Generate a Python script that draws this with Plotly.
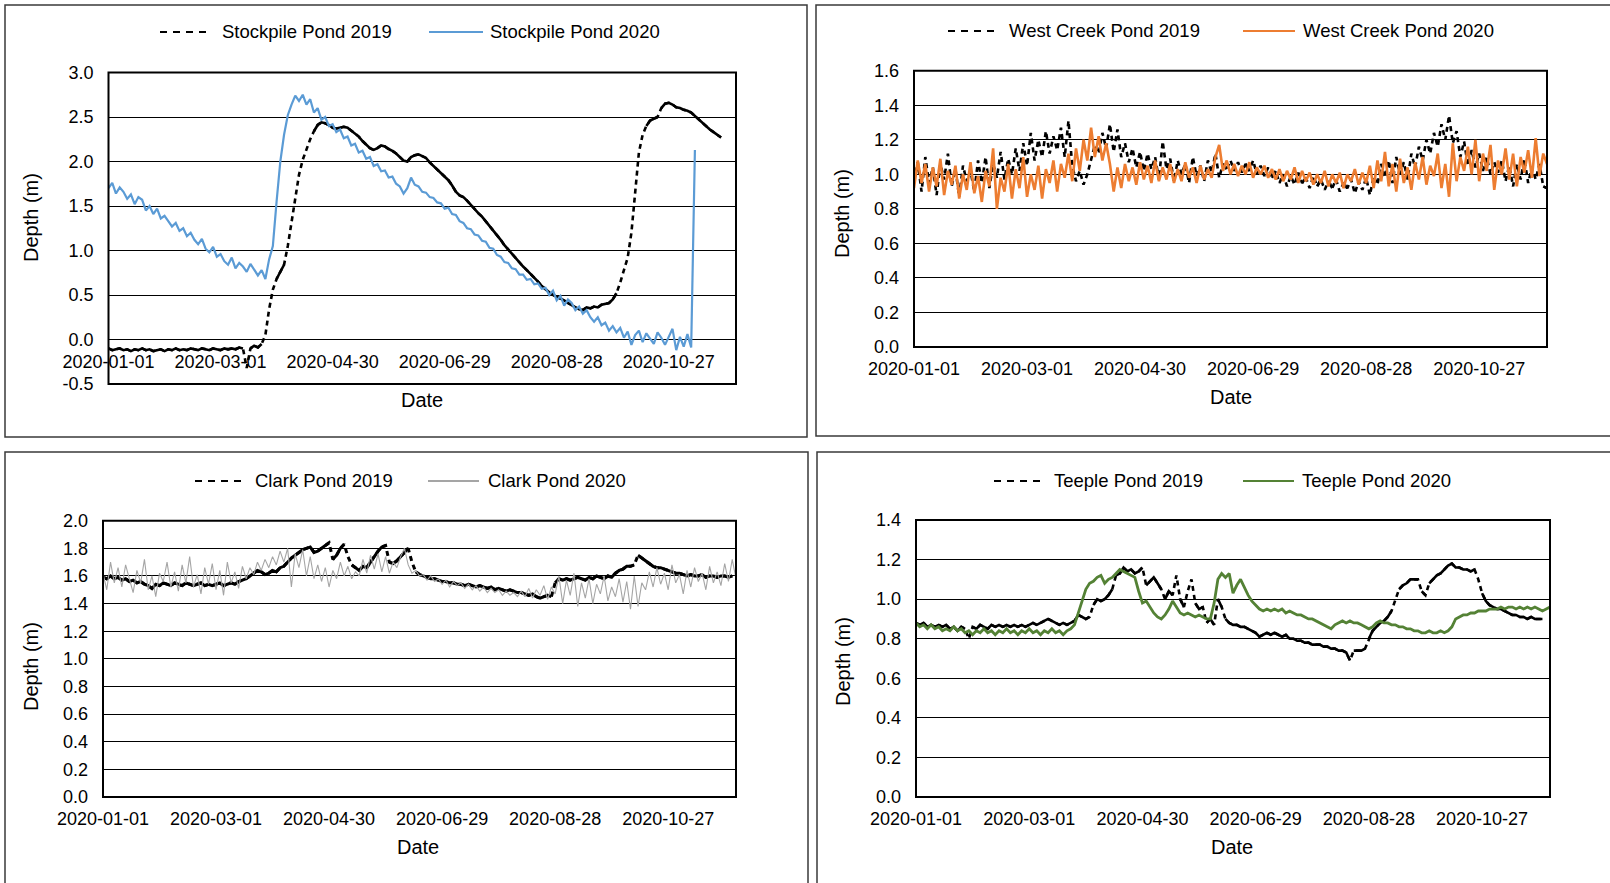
import pandas as pd
import plotly.graph_objects as go

# ---------------- data (depth in m, one value every 2 days from 2020-01-01) ----------------
START_DATE = "2020-01-01"
STEP_DAYS = 2
X_END = "2020-12-02"
TICK_DATES = ["2020-01-01", "2020-03-01", "2020-04-30", "2020-06-29", "2020-08-28", "2020-10-27"]

stockpile_2019 = [
    -0.10, -0.12, -0.11, -0.10, -0.12, -0.11, -0.13, -0.11, -0.12, -0.10,
    -0.12, -0.11, -0.13, -0.12, -0.11, -0.13, -0.11, -0.12, -0.10, -0.12,
    -0.11, -0.12, -0.10, -0.11, -0.12, -0.10, -0.11, -0.12, -0.10, -0.11,
    -0.12, -0.10, -0.11, -0.10, -0.11, -0.09, -0.10, -0.32, -0.10, -0.07,
    -0.09, -0.05, 0.05, 0.34, 0.56, 0.68, 0.76, 0.84, 1.05, 1.30,
    1.55, 1.85, 2.02, 2.14, 2.25, 2.34, 2.41, 2.44, 2.43, 2.41,
    2.38, 2.37, 2.38, 2.39, 2.38, 2.35, 2.32, 2.28, 2.23, 2.19,
    2.15, 2.13, 2.15, 2.18, 2.17, 2.14, 2.12, 2.09, 2.05, 2.01,
    2.00, 2.05, 2.07, 2.08, 2.06, 2.04, 1.99, 1.95, 1.91, 1.86,
    1.82, 1.79, 1.73, 1.66, 1.62, 1.60, 1.56, 1.51, 1.46, 1.42,
    1.38, 1.33, 1.27, 1.22, 1.17, 1.12, 1.06, 1.01, 0.96, 0.91,
    0.86, 0.82, 0.78, 0.74, 0.69, 0.65, 0.60, 0.56, 0.53, 0.50,
    0.48, 0.46, 0.44, 0.41, 0.38, 0.36, 0.34, 0.33, 0.36, 0.35,
    0.37, 0.36, 0.39, 0.40, 0.41, 0.45, 0.52, 0.64, 0.78, 0.92,
    1.20, 1.65, 2.10, 2.30, 2.40, 2.46, 2.48, 2.50, 2.60, 2.65,
    2.66, 2.64, 2.61, 2.60, 2.58, 2.57, 2.55, 2.51, 2.47, 2.43,
    2.40, 2.36, 2.33, 2.30, 2.27,
]
stockpile_2020 = [
    1.70, 1.76, 1.64, 1.71, 1.66, 1.58, 1.63, 1.52, 1.60, 1.57,
    1.45, 1.50, 1.41, 1.47, 1.36, 1.39, 1.33, 1.27, 1.31, 1.22,
    1.25, 1.16, 1.20, 1.12, 1.07, 1.13, 1.02, 0.98, 1.04, 0.93,
    0.96, 0.88, 0.84, 0.92, 0.80, 0.86, 0.82, 0.76, 0.85, 0.78,
    0.72, 0.78, 0.68, 0.90, 1.05, 1.55, 2.00, 2.30, 2.52, 2.64,
    2.74, 2.68, 2.75, 2.64, 2.70, 2.55, 2.60, 2.47, 2.50, 2.40,
    2.42, 2.33, 2.36, 2.26, 2.28, 2.18, 2.20, 2.10, 2.12, 2.03,
    2.05, 1.95, 1.97, 1.89, 1.90, 1.82, 1.83, 1.75, 1.72, 1.64,
    1.70, 1.82, 1.74, 1.72, 1.66, 1.65, 1.60, 1.59, 1.54, 1.53,
    1.47, 1.48, 1.41, 1.40, 1.33, 1.31, 1.25, 1.24, 1.18, 1.17,
    1.11, 1.10, 1.03, 1.02, 0.95, 0.93, 0.87, 0.86, 0.80, 0.79,
    0.73, 0.73, 0.67, 0.68, 0.62, 0.63, 0.57, 0.58, 0.50, 0.55,
    0.44, 0.49, 0.38, 0.45, 0.41, 0.33, 0.37, 0.29, 0.33, 0.25,
    0.20, 0.25, 0.16, 0.19, 0.10, 0.15, 0.08, 0.13, 0.02, 0.09,
    -0.06, 0.05, 0.10, -0.03, 0.07, 0.01, -0.05, 0.08, 0.02, -0.06,
    0.04, 0.12, -0.12, 0.03, -0.08, 0.06, -0.09, 2.13,
]
westcreek_2019 = [
    0.96, 1.07, 0.90, 1.10, 0.95, 1.04, 0.88, 1.06, 0.97, 1.12,
    0.93, 1.03, 0.87, 1.05, 0.96, 1.02, 0.90, 1.08, 0.95, 1.10,
    0.92, 1.06, 0.98, 1.13, 0.97, 1.09, 1.00, 1.15, 1.02, 1.18,
    1.05, 1.24, 1.08, 1.20, 1.10, 1.25, 1.12, 1.22, 1.14, 1.27,
    1.10, 1.31, 1.05, 0.96, 1.02, 0.94, 1.00, 1.08, 1.17, 1.12,
    1.24, 1.15, 1.29, 1.13, 1.26, 1.10, 1.18, 1.07, 1.15, 1.04,
    1.13, 1.02, 1.12, 1.03, 1.10, 0.97, 1.19, 1.03, 1.09, 0.96,
    1.08, 1.00, 1.06, 0.95, 1.10, 0.99, 1.05, 0.96, 1.08, 1.01,
    1.12, 0.98, 1.06, 1.03, 1.08, 1.02, 1.07, 1.01, 1.06, 1.02,
    1.08, 1.00, 1.05, 0.99, 1.04, 0.98, 1.02, 0.95, 1.00, 0.93,
    0.99, 0.94, 1.01, 0.95, 0.98, 0.92, 0.99, 0.93, 0.97, 0.91,
    0.96, 0.92, 0.97, 0.90, 0.95, 0.92, 0.97, 0.89, 0.96, 0.91,
    0.98, 0.88, 0.99, 0.94, 1.06, 0.98, 1.08, 0.95, 1.10, 1.00,
    1.07, 0.97, 1.12, 1.04, 1.16, 1.08, 1.20, 1.12, 1.24, 1.16,
    1.29, 1.20, 1.34, 1.18, 1.25, 1.10, 1.19, 1.05, 1.14, 1.04,
    1.12, 1.02, 1.10, 1.00, 1.07, 1.01, 1.08, 0.96, 1.05, 0.93,
    1.06, 0.97, 1.09, 0.95, 1.04, 0.97, 1.06, 0.93, 0.92,
]
westcreek_2020 = [
    0.92, 1.08, 0.95, 1.06, 0.90, 1.04, 0.93, 1.09, 0.88, 1.02,
    0.94, 1.05, 0.86, 1.00, 0.91, 1.07, 0.89, 0.99, 0.84, 1.02,
    0.93, 1.15, 0.80, 0.98, 0.90, 1.06, 0.86, 1.03, 0.92, 1.10,
    0.87, 1.00, 0.91, 1.05, 0.86, 1.03, 0.95, 1.08, 0.90, 1.06,
    0.98, 1.12, 0.96, 1.15, 1.02, 1.20, 1.08, 1.27, 1.10, 1.22,
    1.08, 1.18, 1.06, 0.90, 1.04, 0.92, 1.06, 0.96, 1.04, 0.94,
    1.07, 0.97, 1.05, 0.95, 1.08, 0.96, 1.04, 0.97, 1.06, 0.95,
    1.03, 0.96, 1.07, 0.98, 1.04, 0.95, 1.05, 0.97, 1.03, 0.98,
    1.10, 1.17, 1.02, 1.08, 1.00, 1.06, 0.99, 1.05, 1.00, 1.07,
    0.98, 1.04, 1.00, 1.05, 0.98, 1.03, 0.97, 1.03, 0.96, 1.02,
    0.97, 1.04, 0.95, 1.02, 0.96, 1.01, 0.94, 1.00, 0.95, 1.02,
    0.93, 1.00, 0.95, 1.01, 0.92, 1.00, 0.96, 1.03, 0.94, 1.01,
    0.95, 1.05, 0.92, 1.08, 0.96, 1.13, 0.93, 1.06, 0.90, 1.09,
    0.95, 1.04, 0.91, 1.07, 0.97, 1.10, 0.94, 1.05, 0.99, 1.12,
    0.92, 1.06, 0.87, 1.18, 0.96, 1.10, 1.02, 1.16, 1.00, 1.20,
    0.96, 1.12, 1.02, 1.17, 0.91, 1.08, 1.00, 1.15, 0.97, 1.12,
    0.93, 1.10, 1.01, 1.14, 0.98, 1.21, 0.99, 1.12, 1.06,
]
clark_2019 = [
    1.59, 1.58, 1.60, 1.58, 1.59, 1.57, 1.58, 1.56, 1.57, 1.55,
    1.56, 1.54, 1.53, 1.51, 1.54, 1.53, 1.55, 1.54, 1.53, 1.55,
    1.54, 1.53, 1.55, 1.54, 1.53, 1.54, 1.55, 1.53, 1.54, 1.53,
    1.54, 1.55, 1.53, 1.54, 1.55, 1.54, 1.56, 1.57, 1.58, 1.60,
    1.62, 1.64, 1.63, 1.61, 1.62, 1.64, 1.63, 1.66, 1.67, 1.70,
    1.73, 1.75, 1.77, 1.79, 1.80, 1.81, 1.77, 1.78, 1.80, 1.82,
    1.84, 1.72, 1.75, 1.80, 1.83, 1.74, 1.68, 1.66, 1.64, 1.67,
    1.66, 1.70, 1.74, 1.78, 1.81, 1.82, 1.70, 1.69, 1.71, 1.74,
    1.77, 1.80, 1.70, 1.63, 1.61, 1.60, 1.59, 1.58, 1.58, 1.57,
    1.56, 1.56, 1.55, 1.55, 1.54, 1.54, 1.53, 1.54, 1.53, 1.52,
    1.53, 1.52, 1.51, 1.52, 1.50, 1.51, 1.50, 1.49, 1.50, 1.49,
    1.48, 1.48, 1.47, 1.46, 1.47, 1.45, 1.44, 1.45, 1.46, 1.45,
    1.55, 1.58, 1.57, 1.58, 1.57, 1.58, 1.59, 1.58, 1.57, 1.59,
    1.58, 1.60, 1.59, 1.58, 1.60, 1.59, 1.62, 1.64, 1.65, 1.67,
    1.67, 1.68, 1.75, 1.73, 1.71, 1.69, 1.67, 1.66, 1.66, 1.65,
    1.64, 1.63, 1.62, 1.62, 1.61, 1.60, 1.61, 1.60, 1.60, 1.61,
    1.59, 1.60, 1.60, 1.59, 1.60, 1.60, 1.59, 1.60,
]
clark_2020 = [
    1.62, 1.50, 1.70, 1.55, 1.66, 1.52, 1.68, 1.57, 1.48, 1.64,
    1.55, 1.72, 1.50, 1.60, 1.45, 1.62, 1.56, 1.70, 1.52, 1.63,
    1.49, 1.68, 1.55, 1.74, 1.52, 1.61, 1.47, 1.66, 1.54, 1.69,
    1.50, 1.64, 1.46, 1.70, 1.55, 1.63, 1.51, 1.67, 1.58, 1.66,
    1.61, 1.70, 1.64, 1.72, 1.66, 1.74, 1.68, 1.78, 1.70, 1.80,
    1.52, 1.76, 1.66, 1.79, 1.60, 1.74, 1.58, 1.68, 1.56, 1.66,
    1.52, 1.64, 1.58, 1.70, 1.60, 1.67, 1.58, 1.63, 1.60, 1.72,
    1.62, 1.75, 1.65, 1.76, 1.63, 1.74, 1.62, 1.70, 1.66, 1.74,
    1.80, 1.68, 1.62, 1.64, 1.60, 1.61, 1.57, 1.60, 1.56, 1.58,
    1.54, 1.57, 1.52, 1.56, 1.53, 1.55, 1.51, 1.54, 1.50, 1.53,
    1.49, 1.52, 1.48, 1.51, 1.48, 1.50, 1.46, 1.49, 1.46, 1.48,
    1.45, 1.49, 1.45, 1.51, 1.44, 1.50, 1.46, 1.53, 1.43, 1.52,
    1.47, 1.60, 1.40, 1.57, 1.46, 1.62, 1.38, 1.55, 1.44, 1.58,
    1.40, 1.54, 1.47, 1.60, 1.42, 1.52, 1.45, 1.58, 1.41, 1.56,
    1.36, 1.60, 1.38, 1.55, 1.50, 1.63, 1.52, 1.66, 1.54, 1.62,
    1.50, 1.68, 1.55, 1.61, 1.47, 1.64, 1.52, 1.66, 1.56, 1.62,
    1.50, 1.67, 1.55, 1.63, 1.53, 1.69, 1.56, 1.72, 1.58,
]
teeple_2019 = [
    0.88, 0.87, 0.88, 0.86, 0.87, 0.86, 0.87, 0.86, 0.87, 0.85,
    0.86, 0.84, 0.86, 0.85, 0.80, 0.86, 0.85, 0.87, 0.86, 0.85,
    0.87, 0.86, 0.87, 0.86, 0.87, 0.86, 0.87, 0.86, 0.87, 0.86,
    0.87, 0.88, 0.87, 0.88, 0.89, 0.90, 0.89, 0.88, 0.87, 0.88,
    0.87, 0.88, 0.89, 0.92, 0.91, 0.90, 0.91, 0.97, 1.00, 0.99,
    1.00, 1.02, 1.05, 1.12, 1.13, 1.16, 1.14, 1.15, 1.13, 1.14,
    1.16, 1.07, 1.09, 1.11, 1.08, 1.05, 1.00, 1.04, 1.02, 1.12,
    1.00, 0.96, 1.04, 1.10, 0.98, 0.95, 0.96, 0.88, 0.90, 0.87,
    1.00, 0.96, 0.90, 0.88, 0.87, 0.87, 0.86, 0.86, 0.85, 0.84,
    0.83, 0.81, 0.82, 0.83, 0.82, 0.83, 0.82, 0.81, 0.82, 0.80,
    0.80, 0.79, 0.79, 0.78, 0.78, 0.77, 0.77, 0.77, 0.76, 0.76,
    0.75, 0.75, 0.74, 0.74, 0.73, 0.69, 0.74, 0.74, 0.74, 0.75,
    0.80, 0.84, 0.86, 0.88, 0.89, 0.91, 0.94, 1.00, 1.05, 1.07,
    1.08, 1.10, 1.10, 1.10, 1.04, 1.02, 1.08, 1.10, 1.12, 1.13,
    1.15, 1.17, 1.18, 1.16, 1.16, 1.15, 1.15, 1.14, 1.15, 1.10,
    1.03, 0.99, 0.97, 0.96, 0.95, 0.95, 0.94, 0.93, 0.92, 0.92,
    0.91, 0.91, 0.90, 0.91, 0.90, 0.90, 0.90,
]
teeple_2020 = [
    0.88, 0.86, 0.87, 0.85, 0.87, 0.85, 0.86, 0.84, 0.85, 0.84,
    0.86, 0.84, 0.85, 0.83, 0.84, 0.82, 0.84, 0.83, 0.85, 0.83,
    0.84, 0.82, 0.84, 0.83, 0.85, 0.83, 0.84, 0.82, 0.84, 0.83,
    0.85, 0.83, 0.84, 0.82, 0.84, 0.83, 0.85, 0.83, 0.84, 0.82,
    0.84, 0.85, 0.87, 0.93, 0.99, 1.05, 1.08, 1.09, 1.11, 1.12,
    1.08, 1.10, 1.11, 1.13, 1.15, 1.14, 1.13, 1.12, 1.11, 1.04,
    0.98, 0.99, 0.96, 0.93, 0.91, 0.90, 0.92, 0.95, 0.99, 0.96,
    0.93, 0.92, 0.93, 0.92, 0.91, 0.92, 0.91, 0.90, 0.90, 0.98,
    1.10, 1.13, 1.11, 1.13, 1.03, 1.07, 1.10, 1.06, 1.02, 0.99,
    0.97, 0.95, 0.94, 0.95, 0.94, 0.95, 0.94, 0.95, 0.93, 0.94,
    0.93, 0.92, 0.92, 0.91, 0.90, 0.90, 0.89, 0.88, 0.87, 0.86,
    0.85, 0.87, 0.88, 0.89, 0.88, 0.89, 0.88, 0.88, 0.87, 0.86,
    0.85, 0.86, 0.88, 0.89, 0.88, 0.88, 0.87, 0.87, 0.86, 0.86,
    0.85, 0.85, 0.84, 0.84, 0.83, 0.83, 0.84, 0.83, 0.83, 0.84,
    0.83, 0.84, 0.86, 0.90, 0.91, 0.92, 0.92, 0.93, 0.93, 0.94,
    0.94, 0.94, 0.95, 0.95, 0.95, 0.96, 0.95, 0.96, 0.96, 0.95,
    0.96, 0.95, 0.96, 0.95, 0.96, 0.95, 0.94, 0.95, 0.96,
]

series_names = [
    ("Stockpile Pond 2019", "Stockpile Pond 2020"),
    ("West Creek Pond 2019", "West Creek Pond 2020"),
    ("Clark Pond 2019", "Clark Pond 2020"),
    ("Teeple Pond 2019", "Teeple Pond 2020"),
]
series_values = [
    (stockpile_2019, stockpile_2020),
    (westcreek_2019, westcreek_2020),
    (clark_2019, clark_2020),
    (teeple_2019, teeple_2020),
]

# ---------------- layout / style ----------------
W, H = 1610, 883
FONT = "Liberation Sans, Arial, sans-serif"
COL_2020 = ["#5B9BD5", "#ED7D31", "#A5A5A5", "#548235"]
W_2020 = [2.2, 2.6, 1.1, 2.8]
W_2019 = [2.6, 2.6, 3.0, 2.6]

panels = [
    dict(plot=(108.5, 72.5, 736, 384), yr=(-0.5, 3.0), dt=0.5, box=(5, 5, 807, 437),
         ytitle=(31, 217), xtitle=(422, 400), leg_y=32, leg=(160, 212, 220, 429, 483, 488)),
    dict(plot=(914, 70.7, 1547, 347), yr=(0.0, 1.6), dt=0.2, box=(816, 5, 1625, 436),
         ytitle=(842, 214), xtitle=(1231, 397), leg_y=31, leg=(948, 1000, 1007, 1243, 1295, 1301)),
    dict(plot=(103, 520.7, 736, 797), yr=(0.0, 2.0), dt=0.2, box=(5, 452, 808, 895),
         ytitle=(31, 666), xtitle=(418, 847), leg_y=481, leg=(195, 245, 253, 428, 479, 486)),
    dict(plot=(916, 520, 1550, 797), yr=(0.0, 1.4), dt=0.2, box=(817, 452, 1625, 895),
         ytitle=(843, 662), xtitle=(1232, 847), leg_y=481, leg=(994, 1045, 1052, 1243, 1294, 1300)),
]


def fx(px):
    return px / W


def fy(py):
    return 1 - py / H


start = pd.Timestamp(START_DATE)


def dates(vals):
    return [start + pd.Timedelta(days=STEP_DAYS * i) for i in range(len(vals))]


def solid_parts(xs, ys, thr):
    ox, oy = [], []
    for i in range(len(ys)):
        ox.append(xs[i])
        oy.append(ys[i])
        if i < len(ys) - 1 and abs(ys[i + 1] - ys[i]) > thr:
            ox.append(None)
            oy.append(None)
    return ox, oy


fig = go.Figure()
shapes, annots = [], []
layout_axes = {}

for k, p in enumerate(panels):
    s = "" if k == 0 else str(k + 1)
    xa, ya = "x" + s, "y" + s
    l, t, r, b = p["plot"]
    r0, r1 = p["yr"]
    px_per_unit = (b - t) / (r1 - r0)
    thr = 8 / px_per_unit

    v19, v20 = series_values[k]
    n19, n20 = series_names[k]
    x19, x20 = dates(v19), dates(v20)

    fig.add_trace(go.Scatter(x=x19, y=v19, mode="lines", name=n19, showlegend=False,
                             line=dict(color="black", width=W_2019[k], dash="5px,4px"),
                             xaxis=xa, yaxis=ya, hoverinfo="skip"))
    sx, sy = solid_parts(x19, v19, thr)
    fig.add_trace(go.Scatter(x=sx, y=sy, mode="lines", name=n19, showlegend=False,
                             connectgaps=False, line=dict(color="black", width=W_2019[k]),
                             xaxis=xa, yaxis=ya))
    fig.add_trace(go.Scatter(x=x20, y=v20, mode="lines", name=n20, showlegend=False,
                             line=dict(color=COL_2020[k], width=W_2020[k]),
                             xaxis=xa, yaxis=ya))

    nt = int(round((r1 - r0) / p["dt"]))
    yt = [round(r0 + i * p["dt"], 2) for i in range(nt + 1)]
    ydom = [fy(b), fy(t)]
    xaxis = dict(domain=[fx(l), fx(r)], type="date", range=[START_DATE, X_END],
                 tickvals=TICK_DATES, ticktext=TICK_DATES, showgrid=False, zeroline=False,
                 showline=False, ticks="", ticklabelstandoff=9, automargin=False,
                 tickfont=dict(family=FONT, size=18, color="black"))
    if r0 < 0:
        xaxis["anchor"] = "free"
        xaxis["position"] = ydom[0] + (0 - r0) / (r1 - r0) * (ydom[1] - ydom[0])
    else:
        xaxis["anchor"] = ya
    yaxis = dict(domain=ydom, range=[r0, r1], tickvals=yt, ticktext=[f"{v:.1f}" for v in yt],
                 showgrid=True, gridcolor="black", gridwidth=1.3, zeroline=True,
                 zerolinecolor="black", zerolinewidth=1.3, showline=False, ticks="",
                 ticklabelstandoff=14, anchor=xa, automargin=False,
                 tickfont=dict(family=FONT, size=18, color="black"))
    layout_axes["xaxis" + s] = xaxis
    layout_axes["yaxis" + s] = yaxis

    # plot-area frame
    shapes.append(dict(type="rect", xref=xa + " domain", yref=ya + " domain", x0=0, x1=1, y0=0, y1=1,
                       line=dict(color="black", width=2), layer="above"))
    # chart-area box
    bx0, by0, bx1, by1 = p["box"]
    shapes.append(dict(type="rect", xref="paper", yref="paper", x0=fx(bx0), x1=fx(bx1),
                       y0=fy(by1), y1=fy(by0), line=dict(color="#3a3a3a", width=1.5)))
    # legend
    d0, d1, tx1, s0, s1, tx2 = p["leg"]
    ly = fy(p["leg_y"])
    shapes.append(dict(type="line", xref="paper", yref="paper", x0=fx(d0), x1=fx(d1), y0=ly, y1=ly,
                       line=dict(color="black", width=2.2, dash="7px,6px")))
    shapes.append(dict(type="line", xref="paper", yref="paper", x0=fx(s0), x1=fx(s1), y0=ly, y1=ly,
                       line=dict(color=COL_2020[k], width=2.2)))
    annots.append(dict(text=n19, x=fx(tx1), y=ly, xref="paper", yref="paper", xanchor="left",
                       yanchor="middle", showarrow=False, font=dict(family=FONT, size=18.5, color="black")))
    annots.append(dict(text=n20, x=fx(tx2), y=ly, xref="paper", yref="paper", xanchor="left",
                       yanchor="middle", showarrow=False, font=dict(family=FONT, size=18.5, color="black")))
    # axis titles
    annots.append(dict(text="Depth (m)", x=fx(p["ytitle"][0]), y=fy(p["ytitle"][1]), xref="paper",
                       yref="paper", textangle=-90, xanchor="center", yanchor="middle", showarrow=False,
                       font=dict(family=FONT, size=20, color="black")))
    annots.append(dict(text="Date", x=fx(p["xtitle"][0]), y=fy(p["xtitle"][1]), xref="paper",
                       yref="paper", xanchor="center", yanchor="middle", showarrow=False,
                       font=dict(family=FONT, size=20, color="black")))

fig.update_layout(template="none", width=W, height=H, autosize=False,
                  margin=dict(l=0, r=0, t=0, b=0, pad=0),
                  paper_bgcolor="white", plot_bgcolor="white", showlegend=False,
                  font=dict(family=FONT, color="black"), shapes=shapes, annotations=annots,
                  **layout_axes)

fig.write_html("out.html", config={"displayModeBar": False},
               post_script="document.body.style.margin='0px';document.body.style.overflow='hidden';")
